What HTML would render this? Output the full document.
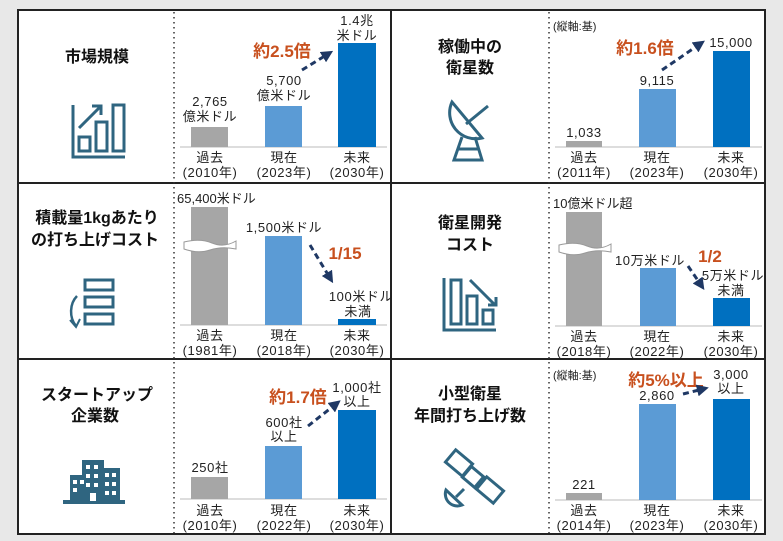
<!DOCTYPE html>
<html><head><meta charset="utf-8"><style>
body{margin:0;background:#e8e8e8;}
svg{display:block;font-family:"Liberation Sans","Noto Sans CJK JP",sans-serif;}
.t{font-size:16px;font-weight:bold;fill:#111;text-anchor:middle;}
.l{font-size:13px;fill:#222;text-anchor:middle;letter-spacing:0.6px;}
.r{font-size:17px;font-weight:bold;fill:#c8501e;text-anchor:middle;}
.ic{fill:none;stroke:#2f6580;stroke-width:3;}
.ar{stroke:#1f3864;stroke-width:3;stroke-dasharray:6,4;fill:none;}
</style></head><body>
<svg width="783" height="541" viewBox="0 0 783 541">
<defs><marker id="h" markerWidth="4" markerHeight="4" refX="2" refY="2" orient="auto"><path d="M0,0L4,2L0,4z" fill="#1f3864"/></marker></defs>
<rect x="0" y="0" width="783" height="541" fill="#e8e8e8"/>
<rect x="18" y="10" width="747" height="524" fill="#fff" stroke="#222" stroke-width="2"/>
<line x1="391" y1="10" x2="391" y2="534" stroke="#222" stroke-width="2"/>
<line x1="18" y1="183" x2="765" y2="183" stroke="#222" stroke-width="2"/>
<line x1="18" y1="359" x2="765" y2="359" stroke="#222" stroke-width="2"/>
<g stroke="#333" stroke-width="1.5" stroke-dasharray="1.5,3.5">
<line x1="174" y1="12" x2="174" y2="533"/><line x1="549" y1="12" x2="549" y2="533"/></g>

<!-- Panel 1 -->
<text class="t" x="97" y="62">市場規模</text>
<g class="ic" stroke-width="2.5"><path d="M73,105V157H125"/><rect x="79" y="137" width="11" height="14"/><rect x="96" y="122" width="11" height="29"/><rect x="113" y="105" width="11" height="46"/><path d="M79,128L100,107M92,106H101V115"/></g>
<line x1="180" y1="147" x2="387" y2="147" stroke="#bbb"/>
<rect x="191" y="127" width="37" height="20" fill="#a6a6a6"/>
<rect x="265" y="106" width="37" height="41" fill="#5b9bd5"/>
<rect x="338" y="43" width="38" height="104" fill="#0070c0"/>
<text class="l" x="210" y="106">2,765</text><text class="l" x="210" y="121">億米ドル</text>
<text class="l" x="284" y="85">5,700</text><text class="l" x="284" y="100">億米ドル</text>
<text class="l" x="357" y="25">1.4兆</text><text class="l" x="357" y="40">米ドル</text>
<text class="r" x="282" y="57">約2.5倍</text>
<path class="ar" d="M302,70L328,54" marker-end="url(#h)"/>
<text class="l" x="210" y="162">過去</text><text class="l" x="210" y="177">(2010年)</text>
<text class="l" x="284" y="162">現在</text><text class="l" x="284" y="177">(2023年)</text>
<text class="l" x="357" y="162">未来</text><text class="l" x="357" y="177">(2030年)</text>

<!-- Panel 2 -->
<text class="t" x="470" y="52">稼働中の</text><text class="t" x="470" y="73">衛星数</text>
<g class="ic" stroke-width="2.5"><path d="M452,102A26,26 0 0 0 482,138Z"/><path d="M466,124L488,106"/><path d="M462,137L454,160H482L475,137M457,149H479"/></g>
<text x="553" y="30" style="font-size:11px;fill:#222">(縦軸:基)</text>
<line x1="555" y1="147" x2="762" y2="147" stroke="#bbb"/>
<rect x="566" y="141" width="36" height="6" fill="#a6a6a6"/>
<rect x="639" y="89" width="37" height="58" fill="#5b9bd5"/>
<rect x="713" y="51" width="37" height="96" fill="#0070c0"/>
<text class="l" x="584" y="137">1,033</text><text class="l" x="657" y="85">9,115</text><text class="l" x="731" y="47">15,000</text>
<text class="r" x="645" y="54">約1.6倍</text>
<path class="ar" d="M662,70L700,44" marker-end="url(#h)"/>
<text class="l" x="584" y="162">過去</text><text class="l" x="584" y="177">(2011年)</text>
<text class="l" x="657" y="162">現在</text><text class="l" x="657" y="177">(2023年)</text>
<text class="l" x="731" y="162">未来</text><text class="l" x="731" y="177">(2030年)</text>

<!-- Panel 3 -->
<text class="t" x="97" y="223">積載量1kgあたり</text><text class="t" x="95" y="245">の打ち上げコスト</text>
<g class="ic"><rect x="85" y="280" width="28" height="10"/><rect x="85" y="297" width="28" height="10"/><rect x="85" y="314" width="28" height="10"/><path d="M77,296A16,20 0 0 0 76,326" stroke-width="2.5"/><path d="M70,320L76,327L80,319" stroke-width="2"/></g>
<line x1="180" y1="325" x2="387" y2="325" stroke="#bbb"/>
<rect x="191" y="207" width="37" height="118" fill="#a6a6a6"/>
<path d="M184,242Q200,238 212,243T236,241V249Q222,246 210,250T184,249Z" fill="#fff" stroke="#999"/>
<rect x="265" y="236" width="37" height="89" fill="#5b9bd5"/>
<rect x="338" y="319" width="38" height="6" fill="#0070c0"/>
<text x="177" y="203" style="font-size:13px;fill:#222">65,400米ドル</text>
<text class="l" x="284" y="232">1,500米ドル</text>
<text class="l" x="361" y="301">100米ドル</text><text class="l" x="358" y="316">未満</text>
<text class="r" x="345" y="259">1/15</text>
<path class="ar" d="M310,245L330,278" marker-end="url(#h)"/>
<text class="l" x="210" y="340">過去</text><text class="l" x="210" y="355">(1981年)</text>
<text class="l" x="284" y="340">現在</text><text class="l" x="284" y="355">(2018年)</text>
<text class="l" x="357" y="340">未来</text><text class="l" x="357" y="355">(2030年)</text>

<!-- Panel 4 -->
<text class="t" x="470" y="228">衛星開発</text><text class="t" x="470" y="250">コスト</text>
<g class="ic" stroke-width="2.5"><path d="M444,278V330H496"/><rect x="451" y="280" width="10" height="44"/><rect x="467" y="296" width="10" height="28"/><rect x="483" y="310" width="10" height="14"/><path d="M470,280L495,305M488,305H496V297"/></g>
<text x="553" y="208" style="font-size:13px;fill:#222">10億米ドル超</text>
<line x1="555" y1="326" x2="762" y2="326" stroke="#bbb"/>
<rect x="566" y="212" width="36" height="114" fill="#a6a6a6"/>
<path d="M559,245Q575,241 587,246T611,244V252Q597,249 585,253T559,252Z" fill="#fff" stroke="#999"/>
<rect x="640" y="268" width="36" height="58" fill="#5b9bd5"/>
<rect x="713" y="298" width="37" height="28" fill="#0070c0"/>
<text class="l" x="650" y="265">10万米ドル</text>
<text class="r" x="710" y="262">1/2</text>
<text class="l" x="733" y="280">5万米ドル</text><text class="l" x="731" y="295">未満</text>
<path class="ar" d="M688,266L701,285" marker-end="url(#h)"/>
<text class="l" x="584" y="341">過去</text><text class="l" x="584" y="356">(2018年)</text>
<text class="l" x="657" y="341">現在</text><text class="l" x="657" y="356">(2022年)</text>
<text class="l" x="731" y="341">未来</text><text class="l" x="731" y="356">(2030年)</text>

<!-- Panel 5 -->
<text class="t" x="97" y="400">スタートアップ</text><text class="t" x="95" y="421">企業数</text>
<g fill="#2f6580"><rect x="63" y="500" width="62" height="4"/><rect x="70" y="475" width="18" height="26"/><rect x="82" y="460" width="22" height="41"/><rect x="100" y="468" width="20" height="33"/></g>
<g fill="#fff"><rect x="73" y="480" width="4" height="4"/><rect x="80" y="480" width="4" height="4"/><rect x="73" y="488" width="4" height="4"/><rect x="86" y="465" width="4" height="4"/><rect x="94" y="465" width="4" height="4"/><rect x="86" y="474" width="4" height="4"/><rect x="94" y="474" width="4" height="4"/><rect x="86" y="483" width="4" height="4"/><rect x="94" y="483" width="4" height="4"/><rect x="90" y="493" width="6" height="8"/><rect x="105" y="473" width="4" height="4"/><rect x="112" y="473" width="4" height="4"/><rect x="105" y="482" width="4" height="4"/><rect x="112" y="482" width="4" height="4"/><rect x="105" y="491" width="4" height="4"/><rect x="112" y="491" width="4" height="4"/></g>
<line x1="180" y1="499" x2="387" y2="499" stroke="#bbb"/>
<rect x="191" y="477" width="37" height="22" fill="#a6a6a6"/>
<rect x="265" y="446" width="37" height="53" fill="#5b9bd5"/>
<rect x="338" y="410" width="38" height="89" fill="#0070c0"/>
<text class="l" x="210" y="472">250社</text>
<text class="l" x="284" y="427">600社</text><text class="l" x="284" y="441">以上</text>
<text class="l" x="357" y="392">1,000社</text><text class="l" x="357" y="406">以上</text>
<text class="r" x="298" y="403">約1.7倍</text>
<path class="ar" d="M308,426L336,404" marker-end="url(#h)"/>
<text class="l" x="210" y="515">過去</text><text class="l" x="210" y="530">(2010年)</text>
<text class="l" x="284" y="515">現在</text><text class="l" x="284" y="530">(2022年)</text>
<text class="l" x="357" y="515">未来</text><text class="l" x="357" y="530">(2030年)</text>

<!-- Panel 6 -->
<text class="t" x="470" y="399">小型衛星</text><text class="t" x="470" y="421">年間打ち上げ数</text>
<g class="ic" stroke-width="2.5"><rect x="448" y="455" width="22" height="16" transform="rotate(40 459 463)"/><rect x="479" y="482" width="22" height="16" transform="rotate(40 490 490)"/><rect x="465" y="470" width="16" height="14" transform="rotate(40 473 477)"/><path d="M446,490A12,12 0 0 0 462,505Z"/><path d="M456,497L464,489"/></g>
<text x="553" y="379" style="font-size:11px;fill:#222">(縦軸:基)</text>
<line x1="555" y1="500" x2="762" y2="500" stroke="#bbb"/>
<rect x="566" y="493" width="36" height="7" fill="#a6a6a6"/>
<rect x="639" y="404" width="37" height="96" fill="#5b9bd5"/>
<rect x="713" y="399" width="37" height="101" fill="#0070c0"/>
<text class="l" x="584" y="489">221</text><text class="l" x="657" y="400">2,860</text>
<text class="l" x="731" y="379">3,000</text><text class="l" x="731" y="393">以上</text>
<text class="r" x="666" y="386">約5%以上</text>
<path class="ar" d="M683,394L703,389" marker-end="url(#h)"/>
<text class="l" x="584" y="515">過去</text><text class="l" x="584" y="530">(2014年)</text>
<text class="l" x="657" y="515">現在</text><text class="l" x="657" y="530">(2023年)</text>
<text class="l" x="731" y="515">未来</text><text class="l" x="731" y="530">(2030年)</text>
</svg>
</body></html>
